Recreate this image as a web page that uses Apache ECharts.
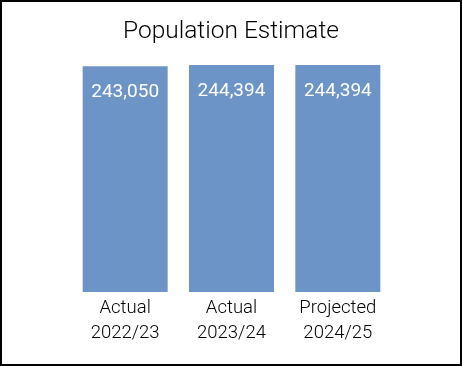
<!DOCTYPE html>
<html>
<head>
<meta charset="utf-8">
<script src="https://cdn.jsdelivr.net/npm/echarts@6/dist/echarts.min.js"></script>
<style>
html,body{margin:0;padding:0;background:#fff;}
#c{width:462px;height:366px;}
</style>
</head>
<body>
<div id="c"></div>
<script>
const titleText = "Population Estimate";
const categories = ["Actual\n2022/23", "Actual\n2023/24", "Projected\n2024/25"];
const values = [243050, 244394, 244394];

const chart = echarts.init(document.getElementById('c'), null, {renderer: 'canvas'});
chart.setOption({
  animation: false,
  backgroundColor: '#ffffff',
  title: {
    text: titleText,
    left: 'center',
    top: 14,
    textStyle: {fontFamily: 'Roboto', fontSize: 24.5, fontWeight: 300, color: '#000'}
  },
  graphic: [{
    type: 'rect',
    shape: {x: 1, y: 1, width: 460, height: 364},
    style: {fill: 'none', stroke: '#000', lineWidth: 2},
    silent: true
  }],
  grid: {left: 72, width: 319, top: 65, bottom: 74, containLabel: false},
  xAxis: {
    type: 'category',
    data: categories,
    axisLine: {show: false},
    axisTick: {show: false},
    axisLabel: {
      fontFamily: 'Roboto', fontSize: 18.5, fontWeight: 300, color: '#000',
      lineHeight: 25, margin: 4, interval: 0
    }
  },
  yAxis: {
    type: 'value',
    min: 0,
    max: 244394,
    show: false,
    splitLine: {show: false}
  },
  series: [{
    type: 'bar',
    data: values,
    barWidth: 85,
    itemStyle: {color: '#6D94C6'},
    label: {
      show: true,
      position: 'insideTop',
      distance: 17,
      color: '#fff',
      fontFamily: 'Roboto',
      fontSize: 19,
      fontWeight: 'normal',
      formatter: p => p.value.toLocaleString('en-US')
    }
  }]
});
</script>
</body>
</html>
